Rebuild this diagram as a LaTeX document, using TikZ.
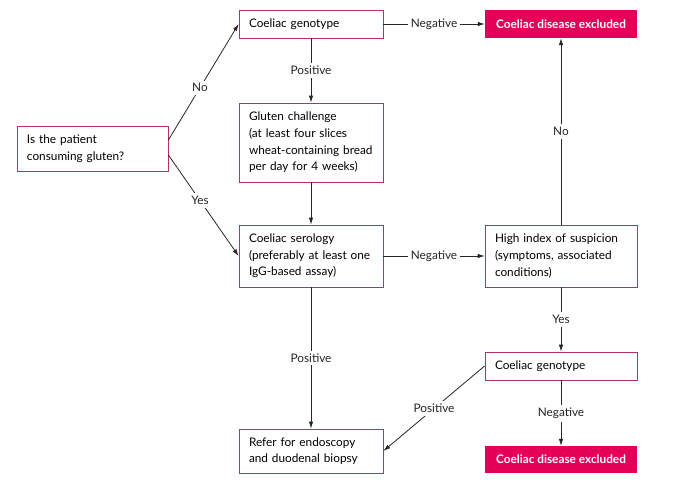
\documentclass[tikz,border=0pt]{standalone}
\usepackage{fontspec}
\setmainfont{Lato}
\usepackage{xcolor}
\usetikzlibrary{arrows.meta, positioning}
\definecolor{boxline}{RGB}{185,45,105}
\definecolor{exclfill}{RGB}{228,0,88}
\begin{document}
\begin{tikzpicture}[
    x=1pt, y=-1pt,
    font=\fontsize{11.8}{16.6}\selectfont,
    >={Latex[length=7pt,width=4.5pt]},
    stepbox/.style={draw=boxline, line width=0.8pt, align=left, inner xsep=10pt, inner ysep=0pt, minimum height=#1},
    stepbox/.default=28pt,
    exclbox/.style={fill=exclfill, text=white, font=\fontsize{11.8}{16.6}\selectfont\bfseries, minimum width=152pt, minimum height=28pt, inner sep=0pt},
    flow/.style={->, line width=0.8pt, black!85},
    lbl/.style={fill=white, inner sep=3pt}
]
    \useasboundingbox (0,0) rectangle (673,501);

    % Boxes
    \node[stepbox=45pt, text width=131pt] (q) at (92.5,148.5) {Is the patient\\consuming gluten?};
    \node[stepbox, text width=124pt] (geno) at (311,24) {Coeliac genotype};
    \node[stepbox=79pt, text width=124pt] (challenge) at (311,142.5) {Gluten challenge\\(at least four slices\\wheat-containing bread\\per day for 4 weeks)};
    \node[stepbox=62pt, text width=124pt] (serol) at (311,256) {Coeliac serology\\(preferably at least one\\IgG-based assay)};
    \node[stepbox=44pt, text width=124pt] (refer) at (311,451) {Refer for endoscopy\\and duodenal biopsy};
    \node[exclbox] (exclA) at (561,24) {Coeliac disease excluded};
    \node[stepbox=62pt, text width=132pt] (suspicion) at (561,256) {High index of suspicion\\(symptoms, associated\\conditions)};
    \node[stepbox, text width=132pt] (genoB) at (561,366) {Coeliac genotype};
    \node[exclbox, minimum height=27pt] (exclB) at (561,459.5) {Coeliac disease excluded};

    % Connectors
    \draw[flow] (q.east |- 0,140) -- node[lbl, pos=0.45] {No} (geno.west);
    \draw[flow] (q.east |- 0,155) -- node[lbl, pos=0.45] {Yes} (serol.west);
    \draw[flow] (geno) -- node[lbl] {Positive} (challenge);
    \draw[flow] (challenge) -- (serol);
    \draw[flow] (serol) -- node[lbl] {Positive} (refer);
    \draw[flow] (geno) -- node[lbl] {Negative} (exclA);
    \draw[flow] (serol) -- node[lbl] {Negative} (suspicion);
    \draw[flow] (suspicion) -- node[lbl] {No} (exclA);
    \draw[flow] (suspicion) -- node[lbl] {Yes} (genoB);
    \draw[flow] (genoB) -- node[lbl] {Negative} (exclB);
    \draw[flow] (genoB.west) -- node[lbl] {Positive} (refer.east);
\end{tikzpicture}
\end{document}
